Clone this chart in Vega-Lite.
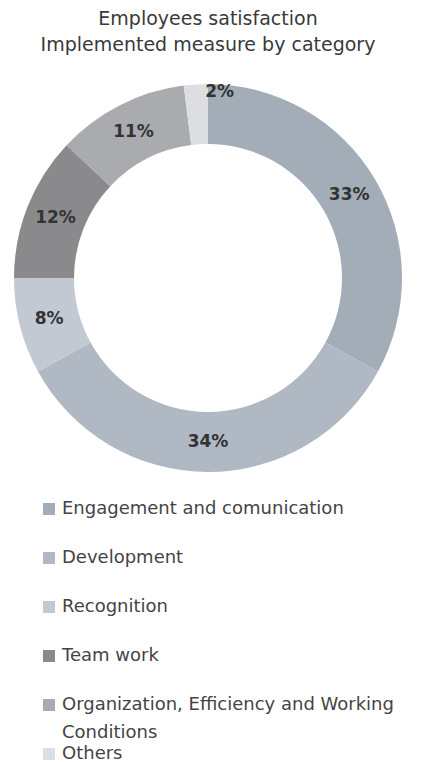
{
  "$schema": "https://vega.github.io/schema/vega-lite/v6.json",
  "autosize": {"type": "none"},
  "padding": {"top": 60, "bottom": 266, "left": 0, "right": 27},
  "width": 416,
  "height": 436,
  "background": "white",
  "title": {
    "text": ["Employees satisfaction", "Implemented measure by category"],
    "anchor": "middle",
    "fontSize": 19,
    "font": "DejaVu Sans",
    "fontWeight": "normal",
    "color": "#3a3a3a",
    "lineHeight": 26,
    "offset": 5
  },
  "data": {
    "values": [
      {"category": "Engagement and comunication", "share": 33, "label": "33%", "rank": 1},
      {"category": "Development", "share": 34, "label": "34%", "rank": 2},
      {"category": "Recognition", "share": 8, "label": "8%", "rank": 3},
      {"category": "Team work", "share": 12, "label": "12%", "rank": 4},
      {"category": "Organization, Efficiency and Working Conditions", "share": 11, "label": "11%", "rank": 5},
      {"category": "Others", "share": 2, "label": "2%", "rank": 6}
    ]
  },
  "encoding": {
    "theta": {"field": "share", "type": "quantitative", "stack": true},
    "order": {"field": "rank", "type": "quantitative"}
  },
  "layer": [
    {
      "mark": {"type": "arc", "innerRadius": 134, "outerRadius": 194},
      "encoding": {
        "color": {
          "field": "category",
          "type": "nominal",
          "sort": null,
          "scale": {
            "domain": ["Engagement and comunication", "Development", "Recognition", "Team work", "Organization, Efficiency and Working Conditions", "Others"],
            "range": ["#a3adb8", "#afb8c3", "#c2c9d2", "#8a8a8c", "#a9abae", "#dcdee1"]
          },
          "legend": {
            "orient": "none",
            "legendX": 40,
            "legendY": 440,
            "title": null,
            "symbolType": "square",
            "symbolSize": 144,
            "symbolStrokeWidth": 0,
            "labelFont": "DejaVu Sans",
            "labelFontSize": 18,
            "labelColor": "#444444",
            "labelLimit": 420,
            "labelOffset": 4,
            "rowPadding": 3,
            "labelExpr": "datum.label == 'Organization, Efficiency and Working Conditions' ? ['Organization, Efficiency and Working', 'Conditions'] : (datum.label == 'Others' ? datum.label : [datum.label, ''])"
          }
        }
      }
    },
    {
      "transform": [{"filter": "datum.category != 'Others'"}],
      "mark": {"type": "text", "radius": 164, "font": "DejaVu Sans", "fontSize": 17, "fontWeight": "bold", "color": "#333333"},
      "encoding": {"text": {"field": "label", "type": "nominal"}}
    },
    {
      "transform": [{"filter": "datum.category == 'Others'"}],
      "mark": {"type": "text", "radius": 186, "font": "DejaVu Sans", "fontSize": 17, "fontWeight": "bold", "color": "#333333"},
      "encoding": {"text": {"field": "label", "type": "nominal"}}
    }
  ],
  "config": {
    "view": {"stroke": null},
    "style": {"guide-label": {"lineHeight": 28}}
  }
}
